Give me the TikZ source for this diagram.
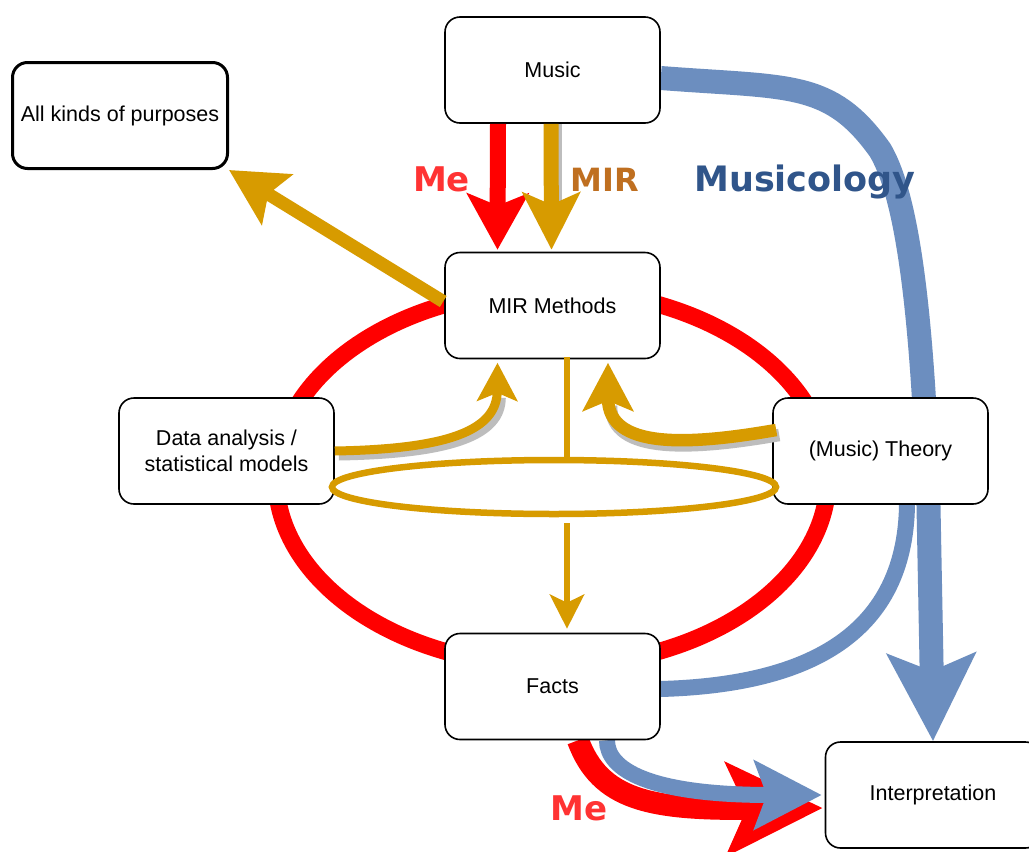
\documentclass[tikz,border=0pt]{standalone}
\usepackage{fontspec}
\setmainfont{Liberation Sans}
\newfontfamily\lblfont{DejaVu Sans}
\usetikzlibrary{arrows.meta,calc}
\pgfdeclarelayer{background}
\pgfsetlayers{background,main}
\definecolor{cred}{HTML}{FF0000}
\definecolor{cgold}{HTML}{D79B00}
\definecolor{cblue}{HTML}{6C8EBF}
\definecolor{cshadow}{HTML}{BDBDBD}
\definecolor{cme}{HTML}{FF3333}
\definecolor{cmir}{HTML}{BF6F20}
\definecolor{cmus}{HTML}{30558A}
\begin{document}
\begin{tikzpicture}[x=1pt,y=-1pt,
  box/.style={draw=black, line width=1.6pt, fill=white, rounded corners=15pt,
    minimum width=215pt, minimum height=106pt, inner sep=0pt, align=center,
    font=\fontsize{21.5}{26}\selectfont},
  lbl/.style={font=\lblfont\bfseries\fontsize{34}{40}\selectfont, anchor=base, inner sep=0pt},
  goldline/.style={draw=cgold, line cap=butt},
  shadowline/.style={draw=cshadow, line cap=butt},
]
\useasboundingbox (0,0) rectangle (1029,852);

% boxes
\node[box] (music) at (552.5,70) {Music};
\node[box, line width=3pt] (purp) at (120,115.5) {All kinds of purposes};
\node[box] (mir) at (552.5,305.5) {MIR Methods};
\node[box] (data) at (226.5,451) {Data analysis /\\statistical models};
\node[box] (theory) at (880.5,451) {(Music) Theory};
\node[box] (facts) at (552.5,686.5) {Facts};
\node[box] (interp) at (933,795) {Interpretation};

\begin{pgfonlayer}{background}
  \fill[white] (0,0) rectangle (1029,852);
  % red cycle
  \draw[cred, line width=17pt] (552,478) ellipse [x radius=276pt, y radius=188pt];
  % musicology path
  \draw[cblue, line width=24pt, -{Stealth[length=87pt,width=87pt,inset=17pt]}]
    ($(music.east)+(0,8)$) .. controls (790,88) and (830,80) .. (880,150)
    .. controls (910,200) and (922,330) .. (928,480) -- (interp.north);
  % facts -> theory
  \draw[cblue, line width=16pt]
    ($(facts.east)+(0,2.5)$) .. controls (800,685) and (905,640) .. ($(theory.south)+(26.5,0)$);
  % Me: facts -> interpretation
  \draw[cred, line width=22pt, -{Stealth[length=96pt,width=92pt,inset=20pt]}]
    ($(facts.south)+(25.5,0)$) .. controls (600,800) and (650,810) .. ($(interp.west)+(-2,13)$);
  % musicology: facts -> interpretation
  \draw[cblue, line width=16pt, -{Stealth[length=67pt,width=68pt,inset=12pt]}]
    ($(facts.south)+(54.5,0)$) .. controls (607,770) and (650,795) .. ($(interp.west)+(-3,0)$);
\end{pgfonlayer}

% top arrows
\draw[cred, line width=16pt, -{Stealth[length=56pt,width=61pt,inset=12pt]}]
  ($(music.south)+(-54.5,0)$) -- ($(mir.north)+(-55,-2)$);
\draw[shadowline, line width=15pt] ($(music.south)+(2,0)$) -- ($(music.south)+(2,80)$);
\draw[goldline, line width=15pt, -{Stealth[length=57pt,width=57pt,inset=12pt]}]
  ($(music.south)+(-1.5,0)$) -- ($(mir.north)+(-1,-2)$);

% MIR -> purposes
\draw[goldline, line width=13pt, -{Stealth[length=56pt,width=58pt,inset=10pt]}]
  ($(mir.west)+(-1,-4)$) -- (purp.south east);

% gold ellipse and stem
\coordinate (ell) at (554,487);
\draw[cgold, line width=6.5pt] (ell) ellipse [x radius=222pt, y radius=27pt];
\draw[goldline, line width=6.5pt] ($(mir.south)+(14.5,-2)$) -- ($(ell)+(13,-27)$);
\draw[goldline, line width=6.5pt, -{Stealth[length=34pt,width=34pt,inset=8pt]}]
  ($(ell)+(13,36)$) -- ($(facts.north)+(14.5,-4)$);

% data -> MIR
\draw[shadowline, line width=9pt, shorten >=30pt]
  ($(data.east)+(4,5)$) .. controls (454,454) and (501,435) .. ($(mir.south)+(-51,8.5)$);
\draw[goldline, line width=9pt, -{Stealth[length=38pt,width=40pt,inset=8pt]}]
  (data.east) .. controls (450,449) and (497,430) .. ($(mir.south)+(-55,3.5)$);

% theory -> MIR
\draw[shadowline, line width=12.5pt, shorten >=38pt]
  ($(theory.west)+(7,-16)$) .. controls (693,450) and (611,455) .. ($(mir.south)+(58.5,8.5)$);
\draw[goldline, line width=12.5pt, -{Stealth[length=48pt,width=50pt,inset=10pt]}]
  ($(theory.west)+(4,-21)$) .. controls (690,445) and (608,450) .. ($(mir.south)+(55.5,3.5)$);

% labels
\node[lbl, text=cme] (me1) at (441.5,191) {Me};
\node[lbl, text=cmir, font=\lblfont\bfseries\fontsize{32}{40}\selectfont] (mirl) at (604.5,191) {MIR};
\node[lbl, text=cmus, font=\lblfont\bfseries\fontsize{35}{40}\selectfont] (musl) at (805,191) {Musicology};
\node[lbl, text=cme] (me2) at (579,820) {Me};
\end{tikzpicture}
\end{document}
